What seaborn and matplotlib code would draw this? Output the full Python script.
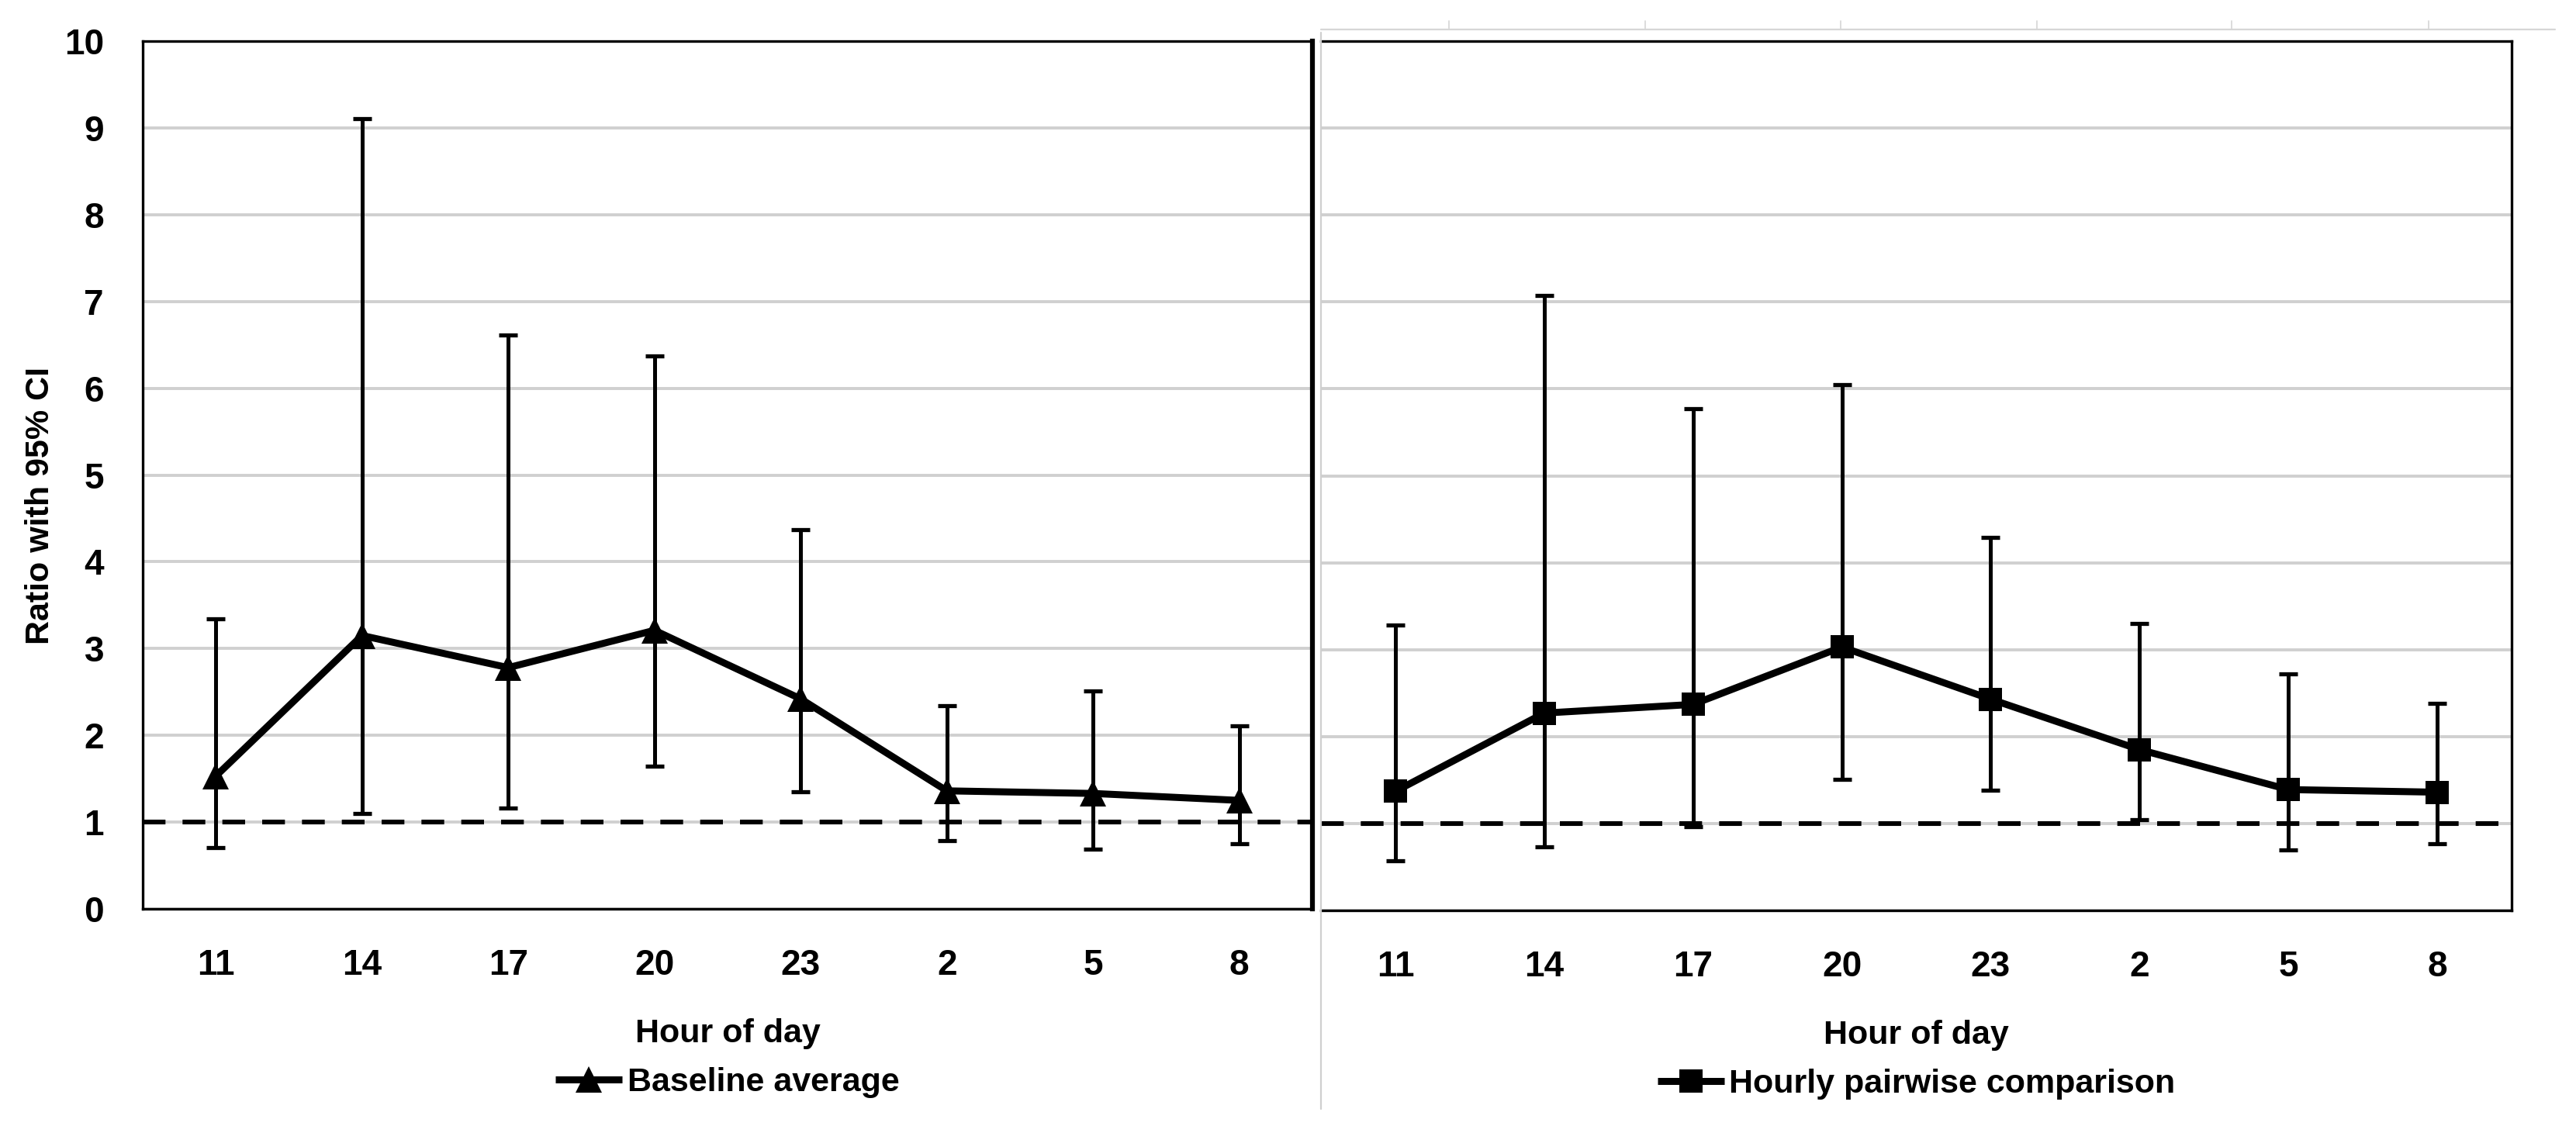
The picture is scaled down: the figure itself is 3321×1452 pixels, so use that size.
import numpy as np
import pandas as pd
import matplotlib
matplotlib.use("Agg")
import matplotlib.pyplot as plt
import seaborn as sns
from matplotlib.lines import Line2D

# ---------------- data ----------------
hours = ["11", "14", "17", "20", "23", "2", "5", "8"]

baseline_ratio = [1.53, 3.15, 2.78, 3.21, 2.42, 1.36, 1.33, 1.25]
baseline_lower = [0.71, 1.10, 1.16, 1.64, 1.35, 0.79, 0.69, 0.75]
baseline_upper = [3.34, 9.11, 6.61, 6.37, 4.37, 2.34, 2.51, 2.11]

pairwise_ratio = [1.37, 2.27, 2.37, 3.03, 2.43, 1.85, 1.39, 1.36]
pairwise_lower = [0.57, 0.73, 0.96, 1.51, 1.38, 1.04, 0.70, 0.77]
pairwise_upper = [3.28, 7.07, 5.77, 6.05, 4.29, 3.30, 2.72, 2.38]

y_ticks = list(range(0, 11))
reference_ratio = 1.0

x_title = "Hour of day"
y_title = "Ratio with 95% CI"
baseline_label = "Baseline average"
pairwise_label = "Hourly pairwise comparison"

# ---------------- style ----------------
sns.set_theme(style="white")
plt.rcParams["font.family"] = ["Liberation Sans", "DejaVu Sans"]
plt.rcParams["font.weight"] = "bold"
for key in ["text.color", "axes.labelcolor", "xtick.color", "ytick.color"]:
    plt.rcParams[key] = "black"

W, H = 3321, 1452
DPI = 100
fig = plt.figure(figsize=(W / DPI, H / DPI), dpi=DPI)
fig.patch.set_facecolor("white")

GRID = "#d0d0d0"
TICK_FS = 33
LABEL_FS = 31
LEGEND_FS = 31
YLABEL_FS = 31
LINE_W = 6.5


def px_rect(x0, y0, x1, y1):
    return [x0 / W, 1 - y1 / H, (x1 - x0) / W, (y1 - y0) / H]


ax_l = fig.add_axes(px_rect(184, 53, 1692, 1172))
ax_r = fig.add_axes(px_rect(1703, 53, 3238, 1174))


def draw_panel(ax, ratio, lower, upper, marker, msize, label):
    df = pd.DataFrame({
        "pos": np.arange(len(hours)),
        "hour": hours,
        "ratio": ratio,
        "lower": lower,
        "upper": upper,
    })
    ax.set_facecolor("white")
    ax.set_axisbelow(True)
    ax.set_ylim(y_ticks[0], y_ticks[-1])
    ax.set_xlim(-0.5, len(hours) - 0.5)
    ax.set_yticks(y_ticks)
    ax.yaxis.grid(True, color=GRID, lw=2.8)
    ax.xaxis.grid(False)

    ax.axhline(reference_ratio, color="black", lw=4.4, dashes=(4.8, 3.6), zorder=2)
    ax.errorbar(df["pos"], df["ratio"],
                yerr=[df["ratio"] - df["lower"], df["upper"] - df["ratio"]],
                fmt="none", ecolor="black", elinewidth=3.6, capsize=8.5,
                capthick=3.8, zorder=3)
    sns.lineplot(data=df, x="pos", y="ratio", ax=ax, color="black", lw=LINE_W,
                 marker=marker, markersize=msize, markeredgecolor="black",
                 markerfacecolor="black", markeredgewidth=0, legend=False,
                 zorder=4)

    ax.set_xticks(df["pos"])
    ax.set_xticklabels(df["hour"])
    ax.tick_params(axis="both", length=0, labelsize=TICK_FS, colors="black")
    ax.tick_params(axis="x", pad=37)
    ax.tick_params(axis="y", pad=36)
    for t in ax.get_xticklabels() + ax.get_yticklabels():
        t.set_fontweight("bold")

    ax.set_xlabel(x_title, fontsize=LABEL_FS, fontweight="bold", color="black")
    ax.xaxis.set_label_coords(0.5, (1172 - 1333) / 1119)
    ax.xaxis.label.set_va("center")
    ax.set_ylabel("")

    handle = Line2D([], [], color="black", lw=LINE_W, marker=marker,
                    markersize=msize, markeredgewidth=0,
                    solid_capstyle="butt")
    ax.legend([handle], [label], loc="center", bbox_to_anchor=(0.5, -0.2),
              frameon=False, handlelength=2.0, handletextpad=0.15,
              prop={"size": LEGEND_FS, "weight": "bold"}, labelcolor="black")

    for s in ax.spines.values():
        s.set_color("black")
        s.set_linewidth(2.4)
        s.set_visible(True)


draw_panel(ax_l, baseline_ratio, baseline_lower, baseline_upper, "^", 25, baseline_label)
draw_panel(ax_r, pairwise_ratio, pairwise_lower, pairwise_upper, "s", 21, pairwise_label)

# left panel specifics
ax_l.set_ylabel(y_title, fontsize=YLABEL_FS, fontweight="bold", color="black")
ax_l.yaxis.set_label_coords((52 - 184) / 1508, 0.465)
ax_l.yaxis.label.set_va("center")
ax_l.spines["right"].set_linewidth(4.5)

# right panel specifics
ax_r.tick_params(axis="y", labelleft=False)
ax_r.spines["left"].set_visible(False)

# faint residual frame lines of the right panel (layout decoration)
fig.add_artist(Line2D([1703 / W, 1703 / W], [1 - 42 / H, 1 - 1430 / H],
                      color="#cfcfcf", lw=1.6, transform=fig.transFigure))
fig.add_artist(Line2D([1703 / W, 3294 / W], [1 - 38 / H, 1 - 38 / H],
                      color="#d6d6d6", lw=1.6, transform=fig.transFigure))
for xt in [1868, 2121, 2373, 2626, 2877, 3131]:
    fig.add_artist(Line2D([xt / W, xt / W], [1 - 38 / H, 1 - 27 / H],
                          color="#d6d6d6", lw=1.2, transform=fig.transFigure))

fig.savefig("out.png", dpi=DPI, facecolor="white")
